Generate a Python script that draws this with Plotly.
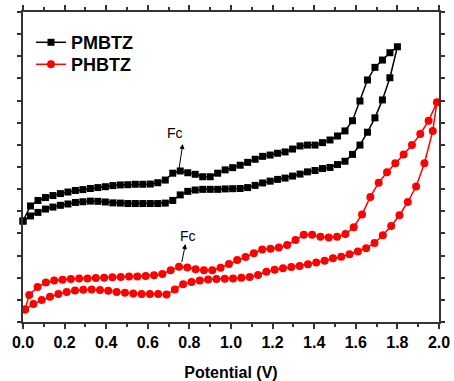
import plotly.graph_objects as go

# PMBTZ (black) - potential (V) and current (a.u.)
bk_x = [0.0, 0.036, 0.072, 0.108, 0.144, 0.18, 0.216, 0.252, 0.288, 0.324, 0.36, 0.396, 0.432,
        0.468, 0.504, 0.54, 0.576, 0.612, 0.648, 0.684, 0.72, 0.756, 0.792, 0.828, 0.864, 0.9,
        0.936, 0.972, 1.008, 1.044, 1.08, 1.116, 1.152, 1.188, 1.224, 1.26, 1.296, 1.332, 1.368,
        1.404, 1.44, 1.476, 1.512, 1.548, 1.584, 1.62, 1.656, 1.692, 1.728, 1.764, 1.8]
bk_lower = [4.56, 4.79, 4.95, 5.10, 5.19, 5.27, 5.33, 5.40, 5.43, 5.46, 5.45, 5.42, 5.38, 5.37,
            5.35, 5.35, 5.35, 5.35, 5.35, 5.37, 5.49, 5.74, 5.90, 5.96, 5.99, 5.99, 5.99, 6.01,
            6.02, 6.03, 6.07, 6.17, 6.28, 6.36, 6.44, 6.50, 6.59, 6.68, 6.78, 6.84, 6.93, 6.98,
            7.11, 7.26, 7.57, 7.99, 8.57, 9.22, 10.03, 11.03, 12.43]
bk_upper = [4.56, 5.24, 5.49, 5.62, 5.71, 5.80, 5.87, 5.94, 5.98, 6.03, 6.07, 6.11, 6.16, 6.19,
            6.20, 6.22, 6.22, 6.23, 6.29, 6.41, 6.72, 6.82, 6.74, 6.67, 6.56, 6.56, 6.72, 6.87,
            6.97, 7.08, 7.21, 7.35, 7.48, 7.54, 7.62, 7.68, 7.81, 7.95, 7.99, 7.99, 8.10, 8.22,
            8.40, 8.63, 9.09, 9.98, 10.93, 11.50, 11.83, 12.16, 12.43]

# PHBTZ (red)
rd_x_anodic = [0.01, 0.05, 0.09, 0.13, 0.17, 0.21, 0.25, 0.29, 0.33, 0.37, 0.41, 0.45, 0.49,
               0.53, 0.57, 0.61, 0.65, 0.69, 0.73, 0.77, 0.81, 0.85, 0.89, 0.93, 0.97, 1.01,
               1.05, 1.09, 1.13, 1.17, 1.21, 1.25, 1.29, 1.33, 1.37, 1.41, 1.45, 1.49, 1.53,
               1.57, 1.61, 1.65, 1.69, 1.73, 1.77, 1.81, 1.85, 1.89, 1.93, 1.97, 1.99]
rd_y_anodic = [0.57, 0.81, 0.99, 1.14, 1.26, 1.36, 1.42, 1.46, 1.47, 1.45, 1.41, 1.36, 1.32,
               1.29, 1.26, 1.26, 1.26, 1.24, 1.47, 1.71, 1.81, 1.87, 1.92, 1.94, 1.95, 1.96,
               2.00, 2.03, 2.12, 2.27, 2.36, 2.43, 2.48, 2.53, 2.61, 2.69, 2.77, 2.88, 2.95,
               3.06, 3.18, 3.33, 3.57, 3.92, 4.34, 4.82, 5.42, 6.12, 7.17, 8.63, 9.92]
rd_x_cathodic = [1.95, 1.91, 1.87, 1.83, 1.79, 1.75, 1.71, 1.67, 1.63, 1.59, 1.55, 1.51, 1.47,
                 1.43, 1.39, 1.35, 1.31, 1.27, 1.23, 1.19, 1.15, 1.11, 1.07, 1.03, 0.99, 0.95,
                 0.91, 0.87, 0.83, 0.79, 0.75, 0.71, 0.67, 0.63, 0.59, 0.55, 0.51, 0.47, 0.43,
                 0.39, 0.35, 0.31, 0.27, 0.23, 0.19, 0.15, 0.11, 0.07, 0.03, 0.01]
rd_y_cathodic = [9.09, 8.49, 7.99, 7.57, 7.17, 6.76, 6.29, 5.65, 4.86, 4.28, 3.97, 3.85, 3.82,
                 3.85, 3.94, 3.94, 3.70, 3.48, 3.36, 3.31, 3.27, 3.10, 2.94, 2.80, 2.62, 2.45,
                 2.34, 2.34, 2.38, 2.46, 2.50, 2.34, 2.17, 2.11, 2.08, 2.06, 2.05, 2.03, 2.02,
                 2.00, 1.99, 1.97, 1.96, 1.94, 1.91, 1.87, 1.78, 1.58, 1.22, 0.57]

x_ticks = [0.0, 0.2, 0.4, 0.6, 0.8, 1.0, 1.2, 1.4, 1.6, 1.8, 2.0]
x_tick_labels = ["0.0", "0.2", "0.4", "0.6", "0.8", "1.0", "1.2", "1.4", "1.6", "1.8", "2.0"]

FONT = "Liberation Sans, Arial, sans-serif"

fig = go.Figure()
fig.add_trace(go.Scatter(
    x=bk_x + bk_x[::-1][1:], y=bk_lower + bk_upper[::-1][1:],
    mode="lines+markers", name="PMBTZ", cliponaxis=False, legend="legend", showlegend=True,
    line=dict(color="black", width=1.5),
    marker=dict(symbol="square", size=7, color="black")))
fig.add_trace(go.Scatter(
    x=rd_x_anodic + rd_x_cathodic, y=rd_y_anodic + rd_y_cathodic,
    mode="lines+markers", name="PHBTZ", cliponaxis=False, legend="legend2", showlegend=True,
    line=dict(color="#ff0000", width=1.5),
    marker=dict(symbol="circle", size=8, color="#ff0000")))

annos = [
    dict(x=0.731, y=8.54, text="Fc", showarrow=False, font=dict(family=FONT, size=14, color="black")),
    dict(x=0.768, y=8.04, ax=0.748, ay=6.78, axref="x", ayref="y", text="", showarrow=True,
         arrowhead=2, arrowsize=1, arrowwidth=1, arrowcolor="black"),
    dict(x=0.793, y=3.88, text="Fc", showarrow=False, font=dict(family=FONT, size=14, color="black")),
    dict(x=0.781, y=3.52, ax=0.762, ay=2.64, axref="x", ayref="y", text="", showarrow=True,
         arrowhead=2, arrowsize=1, arrowwidth=1, arrowcolor="black"),
]

legend_font = dict(family=FONT, size=18, weight="bold", color="black")

fig.update_layout(
    width=454, height=381,
    margin=dict(l=23, r=15, t=12, b=59),
    plot_bgcolor="white", paper_bgcolor="white",
    font=dict(family=FONT, color="black"),
    annotations=annos,
    showlegend=True,
    legend=dict(x=0.0192, y=0.961, xanchor="left", yanchor="top", bgcolor="rgba(0,0,0,0)",
                font=legend_font, visible=True),
    legend2=dict(x=0.0192, y=0.890, xanchor="left", yanchor="top", bgcolor="rgba(0,0,0,0)",
                 font=legend_font, visible=True),
    xaxis=dict(range=[0, 2.0], tickmode="array", tickvals=x_ticks, ticktext=x_tick_labels,
               automargin=False,
               ticks="outside", ticklen=5, tickwidth=1.5, tickcolor="#333",
               minor=dict(dtick=0.1, tick0=0, ticks="outside", ticklen=3, tickcolor="#333"),
               showline=True, linecolor="#333", linewidth=1.5, mirror="ticks",
               showgrid=False, zeroline=False,
               tickfont=dict(family=FONT, size=16, weight="bold", color="black"),
               title=dict(text="Potential (V)", standoff=20,
                          font=dict(family=FONT, size=16, weight="bold", color="black"))),
    yaxis=dict(range=[0, 14], dtick=1, tick0=0, ticks="outside", ticklen=4, tickwidth=1.5,
               automargin=False,
               tickcolor="#333", showticklabels=False,
               showline=True, linecolor="#333", linewidth=1.5, mirror="ticks",
               showgrid=False, zeroline=False),
)

fig.write_html("out.html")
